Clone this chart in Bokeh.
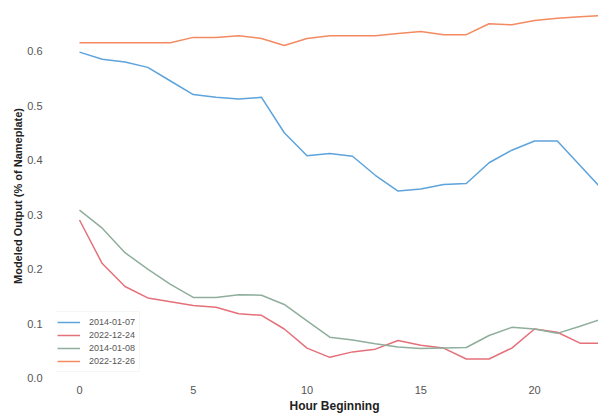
from bokeh.plotting import figure
from bokeh.models import Range1d, FixedTicker, Legend, LegendItem, CustomJSTickFormatter, Title
from bokeh.embed import file_html
from bokeh.resources import INLINE

hours = list(range(24))
s_2014_01_07 = [0.598, 0.585, 0.580, 0.570, 0.545, 0.520, 0.515, 0.512, 0.515, 0.450, 0.408, 0.412,
                0.407, 0.372, 0.343, 0.347, 0.355, 0.357, 0.395, 0.418, 0.435, 0.435, 0.390, 0.345]
s_2022_12_24 = [0.290, 0.210, 0.168, 0.147, 0.140, 0.133, 0.130, 0.118, 0.115, 0.090, 0.055, 0.038,
                0.048, 0.053, 0.069, 0.060, 0.055, 0.035, 0.035, 0.055, 0.090, 0.084, 0.064, 0.064]
s_2014_01_08 = [0.308, 0.275, 0.230, 0.200, 0.172, 0.148, 0.148, 0.153, 0.152, 0.135, 0.105, 0.075,
                0.070, 0.063, 0.057, 0.054, 0.055, 0.056, 0.078, 0.093, 0.090, 0.082, 0.095, 0.109]
s_2022_12_26 = [0.615, 0.615, 0.615, 0.615, 0.615, 0.625, 0.625, 0.628, 0.623, 0.610, 0.623, 0.628,
                0.628, 0.628, 0.632, 0.636, 0.630, 0.630, 0.650, 0.648, 0.656, 0.660, 0.663, 0.665]
series_labels = ["2014-01-07", "2022-12-24", "2014-01-08", "2022-12-26"]
x_ticks = [0, 5, 10, 15, 20]
y_ticks = [0.0, 0.1, 0.2, 0.3, 0.4, 0.5, 0.6]
colors = ["#5da3dc", "#e5707a", "#8fae9c", "#f48a62"]

p = figure(width=598, height=414, output_backend="svg", toolbar_location=None,
           x_range=Range1d(-1.01, 22.81), y_range=Range1d(-0.01, 0.678),
           min_border_left=56, min_border_right=0, min_border_top=8, min_border_bottom=31)
p.outline_line_color = None
p.background_fill_color = "white"
p.border_fill_color = "white"
p.xgrid.grid_line_color = None
p.ygrid.grid_line_color = None

all_series = [s_2014_01_07, s_2022_12_24, s_2014_01_08, s_2022_12_26]
renderers = []
for s, c in zip(all_series, colors):
    r = p.line(hours, s, line_color=c, line_width=1.5)
    renderers.append(r)

legend = Legend(items=[LegendItem(label=l, renderers=[r]) for l, r in zip(series_labels, renderers)])
legend.location = (-4, 11)
legend.label_text_font_size = "9px"
legend.label_text_color = "#555555"
legend.label_text_font = "Liberation Sans"
legend.glyph_height = 12
legend.glyph_width = 23
legend.label_height = 12
legend.label_standoff = 9
legend.spacing = 1
legend.padding = 4
legend.margin = 0
legend.background_fill_alpha = 0.8
legend.border_line_color = "#eeeeee"
p.add_layout(legend, "center")

for ax in (p.xaxis[0], p.yaxis[0]):
    ax.axis_line_color = None
    ax.major_tick_line_color = None
    ax.minor_tick_line_color = None
    ax.major_tick_out = 0
    ax.major_tick_in = 0
    ax.minor_tick_out = 0
    ax.major_label_text_font = "Liberation Sans"
    ax.major_label_text_font_size = "11px"
    ax.major_label_text_color = "#555555"

p.xaxis.ticker = FixedTicker(ticks=x_ticks)
p.yaxis.ticker = FixedTicker(ticks=y_ticks)
p.yaxis.formatter = CustomJSTickFormatter(code="return tick.toFixed(1);")
p.xaxis.major_label_standoff = 2
p.yaxis.major_label_standoff = 14

p.yaxis.axis_label = "Modeled Output (% of Nameplate)"
p.yaxis.axis_label_text_font = "Liberation Sans"
p.yaxis.axis_label_text_font_style = "bold"
p.yaxis.axis_label_text_font_size = "11px"
p.yaxis.axis_label_text_color = "#222222"
p.yaxis.axis_label_standoff = 0

xt = Title(text="Hour Beginning", align="left", offset=233, text_font="Liberation Sans",
           text_font_style="bold", text_font_size="12px", text_color="#222222", standoff=0)
p.add_layout(xt, "below")

open("out.html", "w").write(file_html(p, INLINE))
